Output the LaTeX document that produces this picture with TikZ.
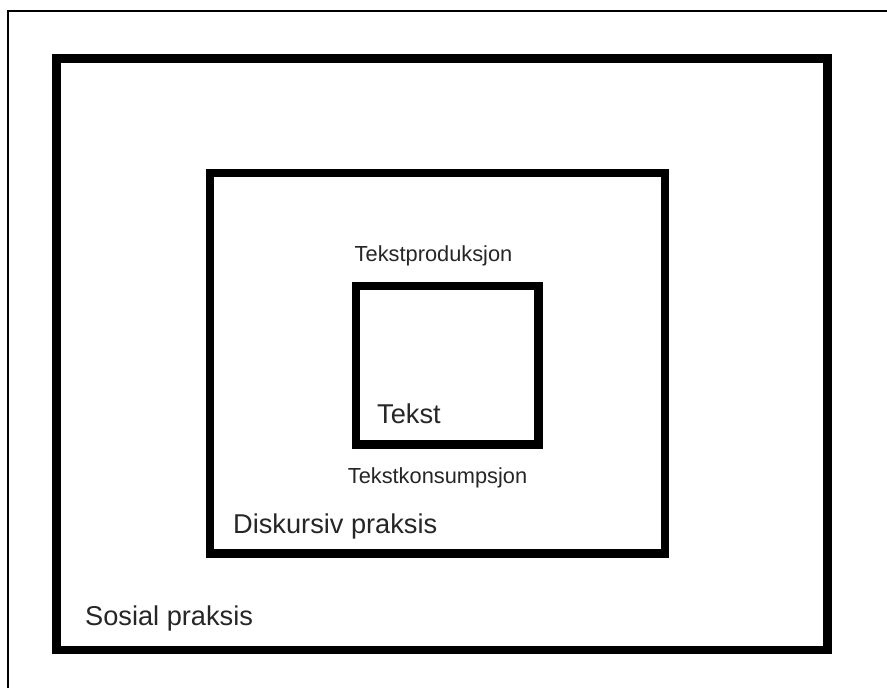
\documentclass[tikz,border=0pt]{standalone}
\usepackage{fontspec}
\setmainfont{Liberation Sans}
\begin{document}
\begin{tikzpicture}[x=1pt,y=-1pt,
  thickbox/.style={draw=black,line width=8.5pt,inner sep=0pt,outer sep=0pt,anchor=north west},
  biglabel/.style={inner sep=0pt,anchor=base west,font=\fontsize{27.2}{30}\selectfont,text=black!85},
  smalllabel/.style={inner sep=0pt,anchor=base,font=\fontsize{21.8}{24}\selectfont,text=black!85}]
\useasboundingbox (0,0) rectangle (887,688);
\fill[white] (0,0) rectangle (887,688);
\draw[line width=2pt] (7.5,688) -- (7.5,10.5) -- (887,10.5);
\node[thickbox,minimum width=771pt,minimum height=591.5pt] (sosial) at (56.5,58.5) {};
\node[thickbox,minimum width=455pt,minimum height=380.5pt] (diskursiv) at (210,173) {};
\node[thickbox,minimum width=182.5pt,minimum height=158.5pt] (tekst) at (356,286) {};
\node[biglabel] (lsosial) at (85,625) {Sosial praksis};
\node[biglabel] (ldisk) at (233,533) {Diskursiv praksis};
\node[biglabel] (ltekst) at (377,423) {Tekst};
\node[smalllabel] (lprod) at (433.5,261) {Tekstproduksjon};
\node[smalllabel] (lkons) at (437.5,483) {Tekstkonsumpsjon};
\end{tikzpicture}
\end{document}
